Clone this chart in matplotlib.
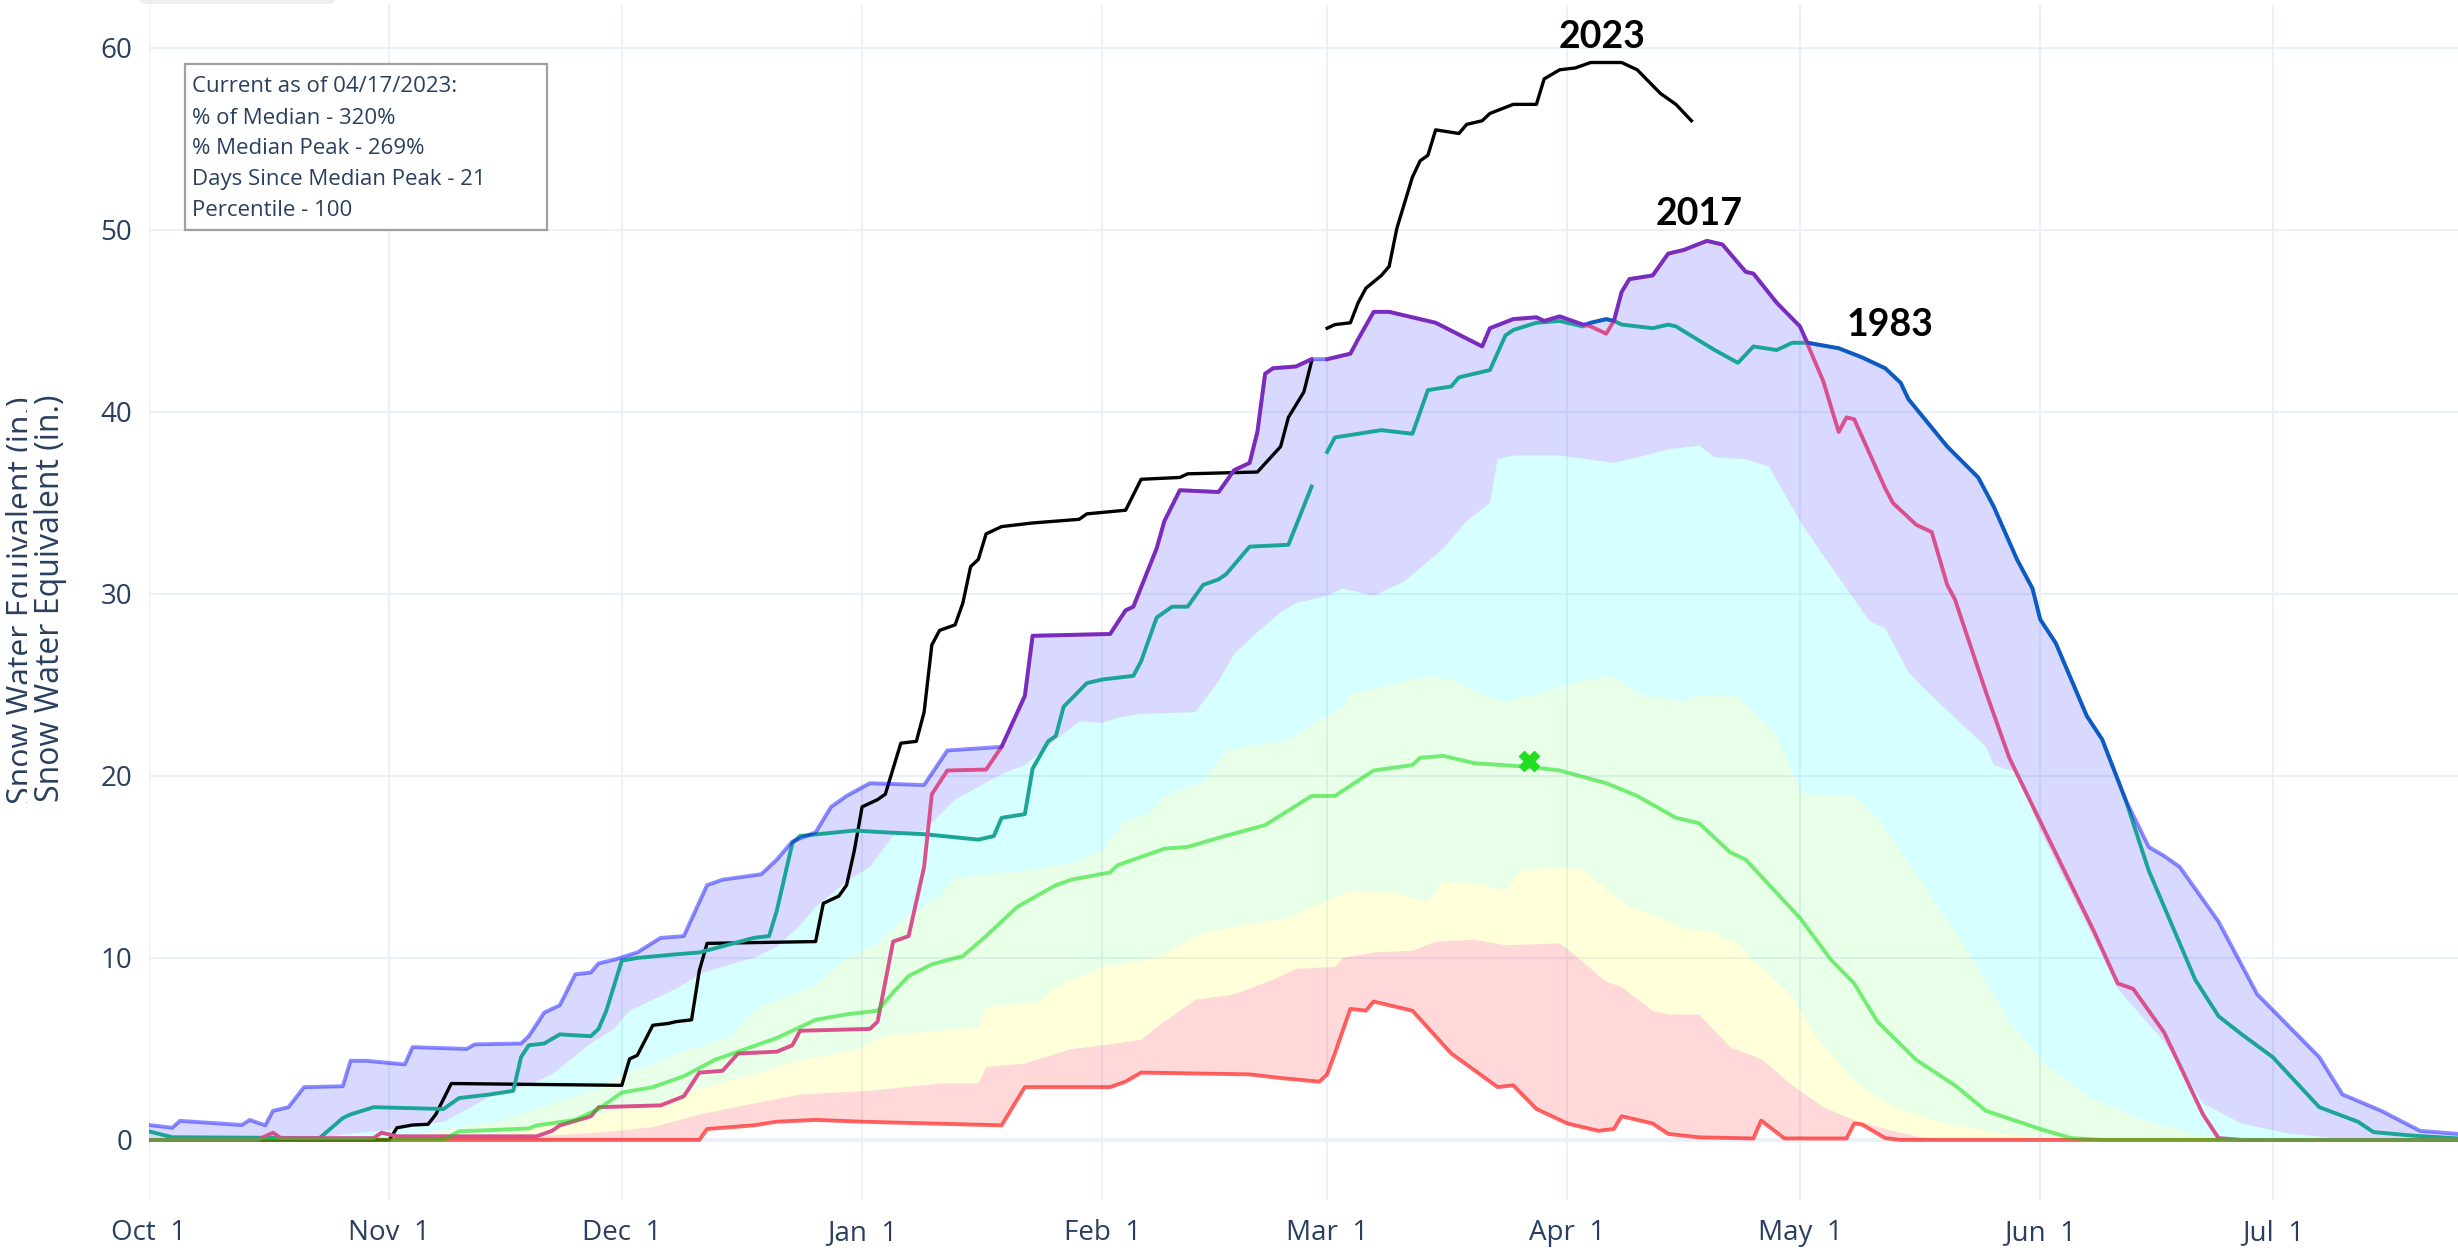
import numpy as np
import pandas as pd
import matplotlib
matplotlib.use("Agg")
import matplotlib.pyplot as plt
import matplotlib.dates as mdates
from matplotlib.patches import Rectangle, FancyBboxPatch
from matplotlib.transforms import Bbox, TransformedBbox

# day of water year (0 = Oct 1, leap-year axis) and SWE (in.)
NAN = np.nan

min_day = [0, 71, 72, 78, 81, 86, 92, 110, 113, 124, 126, 128, 142, 146, 151, 152, 153, 155, 157, 158,
           163, 168, 174, 176, 179, 183, 187, 189, 190, 194, 196, 200, 207, 208, 211, 219, 220, 221, 224, 226, 298]
min_swe = [0, 0, 0.6, 0.8, 1.0, 1.1, 1.0, 0.8, 2.9, 2.9, 3.2, 3.7, 3.6, 3.4, 3.2, 3.6, 4.75, 7.2, 7.1, 7.6,
           7.1, 4.75, 2.9, 3.0, 1.7, 0.9, 0.5, 0.6, 1.3, 0.9, 0.33, 0.14, 0.08, 1.06, 0.08, 0.08, 0.9, 0.85, 0.1, 0, 0]

p10_day = [0, 50, 58, 65, 71, 78, 84, 93, 102, 107, 108, 113, 119, 123, 128, 130, 135, 140, 145, 148, 153, 154,
           158, 163, 166, 171, 175, 182, 183, 188, 190, 194, 196, 200, 204, 208, 212, 216, 220, 224, 228, 231, 298]
p10_swe = [0, 0.2, 0.4, 0.7, 1.4, 2.0, 2.5, 2.7, 3.1, 3.1, 4.0, 4.2, 5.0, 5.2, 5.5, 6.2, 7.7, 8.0, 8.8, 9.4, 9.5, 10.0,
           10.3, 10.4, 10.9, 11.0, 10.7, 10.8, 10.5, 8.7, 8.4, 7.1, 6.9, 6.9, 5.1, 4.45, 3.0, 1.8, 1.1, 0.6, 0.2, 0, 0]

p30_day = [0, 38, 45, 52, 58, 65, 71, 78, 84, 91, 95, 102, 107, 108, 115, 117, 123, 128, 131, 136, 147, 149, 155,
           160, 165, 167, 172, 175, 177, 182, 185, 188, 191, 195, 198, 201, 205, 207, 212, 215, 220, 225, 231, 238,
           244, 248, 298]
p30_swe = [0, 0, 0.3, 0.8, 1.4, 2.0, 2.8, 3.6, 4.4, 4.9, 5.7, 6.0, 6.2, 7.3, 7.6, 8.4, 9.5, 9.85, 10.2, 11.4, 12.2,
           12.6, 13.7, 13.6, 13.1, 14.2, 14.0, 13.7, 14.8, 15.0, 14.8, 13.8, 12.8, 12.2, 11.6, 11.5, 10.8, 9.85, 7.9,
           5.7, 3.2, 1.8, 1.0, 0.4, 0.1, 0, 0]

p70_day = [0, 30, 32, 38, 45, 52, 58, 61, 65, 68, 71, 75, 78, 81, 86, 90, 94, 98, 102, 104, 113, 119, 123, 126,
           129, 131, 136, 139, 147, 150, 154, 155, 160, 165, 168, 172, 175, 179, 183, 188, 190, 192, 198, 200, 205,
           210, 213, 214, 220, 223, 229, 235, 240, 245, 251, 258, 264, 268, 298]
p70_swe = [0, 0, 0.1, 0.6, 1.0, 2.0, 2.8, 3.6, 4.2, 4.75, 5.1, 5.7, 7.1, 7.7, 8.5, 10.0, 10.8, 12.4, 13.4, 14.4,
           14.8, 15.2, 15.9, 17.6, 17.9, 18.9, 19.7, 21.4, 22.0, 22.8, 23.8, 24.5, 25.0, 25.5, 25.3, 24.5, 24.1, 24.5,
           25.0, 25.5, 25.2, 24.5, 24.1, 24.4, 24.4, 22.2, 19.3, 19.0, 18.9, 17.7, 14.0, 10.2, 6.5, 4.0, 2.2, 1.0,
           0.33, 0, 0]

p90_day = [0, 22, 25, 32, 38, 45, 49, 52, 57, 60, 62, 65, 68, 71, 75, 78, 81, 84, 86, 90, 93, 96, 100, 104, 110,
           113, 120, 123, 125, 128, 135, 138, 140, 143, 146, 148, 152, 154, 158, 162, 167, 170, 173, 174, 176, 182,
           189, 193, 196, 200, 202, 206, 209, 213, 217, 220, 222, 224, 227, 229, 233, 237, 238, 241, 244, 251, 254,
           260, 265, 270, 276, 282, 286, 298]
p90_swe = [0, 0.1, 0.3, 0.6, 1.0, 2.6, 3.0, 3.6, 5.3, 6.1, 7.1, 7.7, 8.3, 9.1, 9.65, 10.0, 10.6, 11.8, 12.8, 14.2,
           15.0, 16.7, 17.0, 18.7, 20.1, 20.6, 23.0, 22.9, 23.2, 23.4, 23.5, 25.2, 26.7, 27.9, 29.0, 29.5, 29.9, 30.3,
           29.9, 30.7, 32.5, 34.0, 35.0, 37.4, 37.6, 37.6, 37.2, 37.6, 37.95, 38.15, 37.5, 37.4, 37.0, 34.0, 31.5,
           29.7, 28.5, 28.1, 25.7, 24.8, 23.2, 21.6, 20.6, 20.2, 17.0, 11.0, 8.3, 5.4, 2.0, 0.9, 0.35, 0.1, 0, 0]

max_day = [0, 3, 4, 12, 13, 15, 16, 18, 20, 25, 26, 28, 33, 34, 41, 42, 48, 49, 51, 53, 55, 57, 58, 60, 63, 66,
           69, 72, 74, 79, 81, 83, 86, 88, 90, 93, 100, 103, 110, 113, 114, 124, 126, 127, 130, 131, 133, 138, 140,
           142, 143, 144, 145, 148, 150, 151, 152, 155, 156, 158, 160, 166, 172, 173, 176, 179, 180, 182, 185, 186,
           188, 189, 190, 191, 194, 196, 198, 201, 203, 206, 207, 210, 213, 214, 218, 221, 224, 226, 227, 232, 236,
           238, 241, 243, 244, 246, 250, 252, 255, 258, 260, 262, 267, 272, 280, 283, 288, 293, 298]
max_swe = [0.82, 0.67, 1.05, 0.82, 1.1, 0.8, 1.6, 1.8, 2.9, 2.95, 4.35, 4.35, 4.15, 5.1, 5.0, 5.25, 5.3, 5.7, 7.0,
           7.4, 9.1, 9.2, 9.7, 9.9, 10.3, 11.1, 11.2, 14.0, 14.3, 14.6, 15.4, 16.4, 16.9, 18.3, 18.9, 19.6, 19.5,
           21.4, 21.6, 24.4, 27.7, 27.8, 29.1, 29.3, 32.5, 34.0, 35.7, 35.6, 36.8, 37.2, 38.9, 42.1, 42.4, 42.5,
           42.9, 42.9, 42.9, 43.2, 44.0, 45.5, 45.5, 44.9, 43.6, 44.6, 45.1, 45.2, 45.0, 45.25, 44.8, 44.9, 45.1,
           45.0, 46.6, 47.3, 47.5, 48.7, 48.9, 49.4, 49.2, 47.7, 47.6, 46.0, 44.7, 43.8, 43.5, 43.0, 42.4, 41.6,
           40.7, 38.1, 36.4, 34.8, 31.9, 30.3, 28.6, 27.3, 23.3, 22.0, 18.7, 16.1, 15.6, 15.0, 12.0, 8.0, 4.55, 2.5,
           1.6, 0.5, 0.33]

median_day = [0, 38, 40, 49, 50, 55, 58, 61, 65, 69, 73, 77, 81, 86, 90, 94, 96, 98, 101, 105, 108, 112, 117, 119,
              124, 125, 131, 134, 138, 144, 150, 153, 158, 163, 164, 167, 171, 178, 182, 188, 192, 197, 200, 204,
              206, 213, 217, 220, 223, 228, 233, 237, 244, 248, 252, 298]
median_swe = [0, 0, 0.47, 0.63, 0.8, 1.1, 1.7, 2.6, 2.9, 3.5, 4.4, 5.0, 5.6, 6.6, 6.9, 7.1, 8.1, 9.0, 9.65, 10.1,
              11.2, 12.8, 14.0, 14.3, 14.7, 15.1, 16.0, 16.1, 16.6, 17.3, 18.9, 18.9, 20.3, 20.6, 21.0, 21.1, 20.7,
              20.5, 20.3, 19.6, 18.9, 17.7, 17.4, 15.8, 15.4, 12.2, 9.9, 8.6, 6.5, 4.4, 3.0, 1.6, 0.6, 0.1, 0, 0]
median_peak_day = 178
median_peak_swe = 20.8

wy1983_day = [0, 3, 22, 25, 26, 29, 38, 40, 44, 47, 48, 49, 51, 53, 57, 58, 59, 61, 63, 68, 71, 78, 80, 81, 83, 84,
              91, 95, 100, 107, 109, 110, 113, 114, 116, 117, 118, 121, 123, 127, 128, 130, 132, 134, 136, 138, 139,
              142, 147, 150, 151, 152, 153, 159, 163, 165, 168, 169, 173, 175, 176, 179, 182, 185, 186, 188, 189,
              190, 194, 196, 197, 202, 205, 207, 210, 212, 214, 218, 221, 224, 226, 227, 232, 236, 238, 241, 243,
              244, 246, 250, 252, 255, 258, 264, 267, 270, 274, 280, 285, 287, 292, 298]
wy1983_swe = [0.47, 0.15, 0.1, 1.2, 1.4, 1.8, 1.7, 2.3, 2.5, 2.7, 4.55, 5.2, 5.3, 5.8, 5.7, 6.1, 7.1, 9.85, 10.0,
              10.2, 10.3, 11.1, 11.2, 12.6, 16.3, 16.7, 17.0, 16.9, 16.8, 16.5, 16.7, 17.7, 17.9, 20.4, 21.9, 22.2,
              23.8, 25.1, 25.3, 25.5, 26.3, 28.7, 29.3, 29.3, 30.5, 30.8, 31.1, 32.6, 32.7, 35.9, NAN, 37.8, 38.6,
              39.0, 38.8, 41.2, 41.4, 41.9, 42.3, 44.2, 44.5, 44.9, 45.0, 44.7, 44.9, 45.1, 45.0, 44.8, 44.6, 44.8,
              44.7, 43.4, 42.7, 43.6, 43.4, 43.8, 43.8, 43.5, 43.0, 42.4, 41.6, 40.7, 38.1, 36.4, 34.8, 31.9, 30.3,
              28.6, 27.3, 23.3, 22.0, 18.7, 14.8, 8.8, 6.8, 5.8, 4.55, 1.8, 1.0, 0.43, 0.24, 0.08]

wy2017_day = [0, 14, 16, 17, 29, 30, 32, 50, 52, 53, 57, 58, 66, 69, 71, 74, 76, 81, 83, 84, 93, 94, 96, 98, 100,
              101, 103, 108, 110, 113, 114, 124, 126, 127, 130, 131, 133, 138, 140, 142, 143, 144, 145, 148, 150,
              151, 152, 155, 156, 158, 160, 166, 172, 173, 176, 179, 180, 182, 185, 186, 188, 189, 190, 191, 194,
              196, 198, 201, 203, 206, 207, 210, 213, 214, 216, 218, 219, 220, 224, 225, 228, 230, 232, 233, 237,
              240, 244, 251, 254, 256, 260, 265, 267, 270, 298]
wy2017_swe = [0, 0, 0.4, 0.1, 0.1, 0.4, 0.2, 0.2, 0.5, 0.8, 1.3, 1.8, 1.9, 2.4, 3.7, 3.8, 4.75, 4.85, 5.2, 6.0, 6.1,
              6.5, 10.9, 11.2, 15.0, 19.0, 20.3, 20.35, 21.6, 24.4, 27.7, 27.8, 29.1, 29.3, 32.5, 34.0, 35.7, 35.6,
              36.8, 37.2, 38.9, 42.1, 42.4, 42.5, 42.9, NAN, 42.9, 43.2, 44.0, 45.5, 45.5, 44.9, 43.6, 44.6, 45.1,
              45.2, 45.0, 45.25, 44.8, 44.7, 44.3, 45.0, 46.6, 47.3, 47.5, 48.7, 48.9, 49.4, 49.2, 47.7, 47.6, 46.0,
              44.7, 43.7, 41.7, 38.9, 39.7, 39.6, 35.8, 35.0, 33.8, 33.4, 30.5, 29.7, 24.6, 21.0, 17.5, 11.4, 8.6,
              8.3, 5.9, 1.4, 0.1, 0, 0]

wy2023_day = [0, 31, 32, 34, 36, 37, 39, 61, 62, 63, 65, 67, 68, 70, 71, 72, 86, 87, 89, 90, 91, 92, 94, 95, 97,
              99, 100, 101, 102, 104, 105, 106, 107, 108, 110, 114, 120, 121, 126, 128, 133, 134, 143, 146, 147, 149,
              150, 151, 152, 153, 155, 156, 157, 159, 160, 161, 163, 164, 165, 166, 169, 170, 172, 173, 176, 179,
              180, 182, 184, 186, 190, 192, 195, 197, 199]
wy2023_swe = [0, 0, 0.67, 0.82, 0.86, 1.4, 3.1, 3.0, 4.45, 4.65, 6.3, 6.4, 6.5, 6.6, 9.3, 10.8, 10.9, 13.0, 13.4,
              14.0, 15.9, 18.3, 18.7, 19.0, 21.8, 21.9, 23.5, 27.2, 28.0, 28.3, 29.5, 31.5, 31.9, 33.3, 33.7, 33.9,
              34.1, 34.4, 34.6, 36.3, 36.4, 36.6, 36.7, 38.1, 39.7, 41.1, 42.8, NAN, 44.6, 44.8, 44.9, 46.0, 46.8,
              47.5, 48.0, 50.1, 52.9, 53.8, 54.1, 55.5, 55.3, 55.8, 56.0, 56.4, 56.9, 56.9, 58.3, 58.8, 58.9, 59.2,
              59.2, 58.8, 57.5, 56.9, 56.0]

year_labels = ["2023", "2017", "1983"]
label_day = [187.5, 200, 224.6]
label_swe = [60.6, 50.9, 44.8]

info_lines = ["Current as of 04/17/2023:", "% of Median - 320%", "% Median Peak - 269%",
              "Days Since Median Peak - 21", "Percentile - 100"]

start = pd.Timestamp("2019-10-01")


def to_dates(days):
    return start + pd.to_timedelta(np.asarray(days, dtype=float), unit="D")


W, H = 2458, 1253
fig = plt.figure(figsize=(W / 100, H / 100), dpi=100)
ax = fig.add_axes([149 / W, 1 - 1200 / H, 1 - 149 / W, 1195 / H])

txt_col = "#2a3f5f"
grid_col = "#ebf0f8"

# percentile bands
bands = [(min_day, min_swe, p10_day, p10_swe, (1, 0, 0, 0.15)),
         (p10_day, p10_swe, p30_day, p30_swe, (1, 1, 0, 0.15)),
         (p30_day, p30_swe, p70_day, p70_swe, (0, 1, 0, 0.09)),
         (p70_day, p70_swe, p90_day, p90_swe, (0, 1, 1, 0.16)),
         (p90_day, p90_swe, max_day, max_swe, (0, 0, 1, 0.15))]
for lo_d, lo_v, hi_d, hi_v, col in bands:
    xs = np.concatenate([to_dates(hi_d), to_dates(lo_d)[::-1]])
    ys = np.concatenate([hi_v, lo_v[::-1]])
    ax.fill(xs, ys, color=col, lw=0, zorder=2)

lw = 2.8
ax.plot(to_dates(wy2023_day), wy2023_swe, color="black", lw=2.4, zorder=4)
ax.plot(to_dates(min_day), min_swe, color=(1, 0, 0, 0.6), lw=lw, zorder=5)
ax.plot(to_dates(wy1983_day), wy1983_swe, color="#1aa596", lw=lw, zorder=5)
ax.plot(to_dates(wy2017_day), wy2017_swe, color="#d9508c", lw=lw, zorder=5)
ax.plot(to_dates(max_day), max_swe, color=(0, 0, 1, 0.45), lw=lw, zorder=6)
ax.plot(to_dates(median_day), median_swe, color=(0, 0.86, 0, 0.5), lw=lw, zorder=7)
ax.plot(to_dates([median_peak_day]), [median_peak_swe], marker="X", ms=15, color="#22dd22",
        mec="#22dd22", ls="none", zorder=8)

for lab, d, v in zip(year_labels, label_day, label_swe):
    ax.text(to_dates([d])[0], v, lab, ha="center", va="center", fontsize=27,
            fontfamily="Lato", fontweight="bold", color="black", zorder=9)

# axes styling
ax.set_xlim(to_dates([0])[0], to_dates([297.9])[0])
ax.set_ylim(-3.3, 62.36)
ax.set_yticks([0, 10, 20, 30, 40, 50, 60])
ax.xaxis.set_major_locator(mdates.MonthLocator())
ax.xaxis.set_major_formatter(plt.FuncFormatter(
    lambda x, pos: "{:%b}  {}".format(mdates.num2date(x), mdates.num2date(x).day)))
ax.grid(True, color=grid_col, lw=1.5, zorder=0)
ax.axhline(0, color=grid_col, lw=3, zorder=1)
ax.set_axisbelow(True)
for s in ax.spines.values():
    s.set_visible(False)
ax.tick_params(length=0, labelsize=20, labelcolor=txt_col)
ax.tick_params(axis="y", pad=12)
ax.tick_params(axis="x", pad=14)
for t in ax.get_xticklabels() + ax.get_yticklabels():
    t.set_fontfamily("Open Sans")

# y axis titles (second copy half cut off, as in the screenshot)
yl = fig.text(51 / W, 1 - 598 / H, "Snow Water Equivalent (in.)", rotation=90, ha="center",
              va="center", fontsize=23, color=txt_col, fontfamily="Open Sans")
yl2 = fig.text(23 / W, 1 - 600 / H, "Snow Water Equivalent (in.)", rotation=90, ha="center",
               va="center", fontsize=23, color=txt_col, fontfamily="Open Sans")
yl2.set_clip_box(TransformedBbox(Bbox([[0, 0], [27 / W, 1]]), fig.transFigure))
yl2.set_clip_on(True)

# info box
fig.patches.append(Rectangle((185 / W, 1 - 230 / H), 362 / W, 166 / H, transform=fig.transFigure,
                             facecolor="white", edgecolor="#a0a0a0", lw=1.6, zorder=10))
for i, line in enumerate(info_lines):
    fig.text(192 / W, 1 - (87 + 31 * i) / H, line, ha="left", va="center", fontsize=16,
             color=txt_col, fontfamily="Open Sans", zorder=11)

# grey tab at top edge of screenshot
fig.patches.append(FancyBboxPatch((140 / W, 1 - 4 / H), 195 / W, 20 / H, boxstyle="round,pad=0,rounding_size=0.003",
                                  transform=fig.transFigure, facecolor="#eeeeee", edgecolor="none"))

fig.savefig("out.png", dpi=100)
